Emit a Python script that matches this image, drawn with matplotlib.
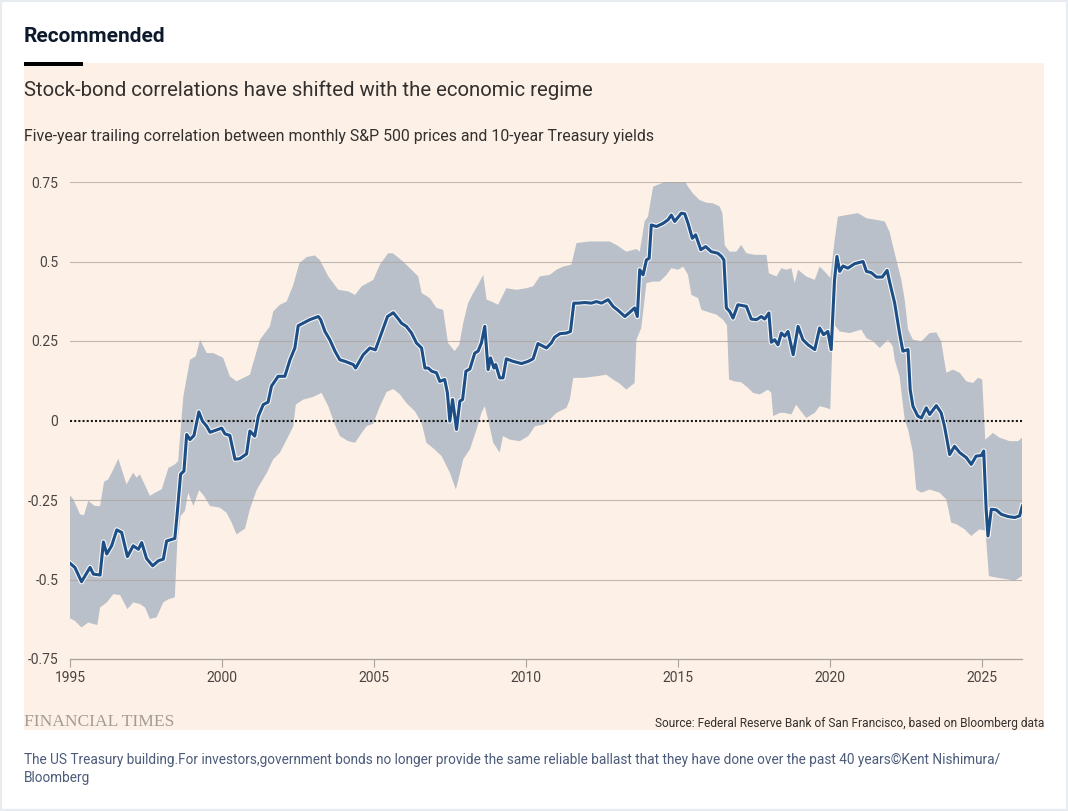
import numpy as np
import matplotlib.pyplot as plt
import matplotlib.patheffects as pe
from matplotlib.patches import Rectangle

# five-year trailing correlation
line_x = [1995.00, 1995.16, 1995.38, 1995.66, 1995.77, 1995.99, 1996.10, 1996.21, 1996.37, 1996.54,
          1996.70, 1996.89, 1997.08, 1997.25, 1997.36, 1997.52, 1997.72, 1997.91, 1998.07, 1998.18,
          1998.45, 1998.53, 1998.64, 1998.75, 1998.84, 1998.95, 1999.08, 1999.24, 1999.36, 1999.50,
          1999.61, 1999.82, 1999.99, 2000.10, 2000.26, 2000.43, 2000.59, 2000.81, 2000.92, 2001.08,
          2001.20, 2001.36, 2001.52, 2001.63, 2001.85, 2002.07, 2002.24, 2002.40, 2002.51, 2002.67,
          2002.89, 2003.17, 2003.25, 2003.39, 2003.55, 2003.72, 2003.88, 2004.05, 2004.32, 2004.40,
          2004.65, 2004.87, 2005.05, 2005.25, 2005.45, 2005.64, 2005.80, 2005.91, 2006.07, 2006.24,
          2006.40, 2006.57, 2006.68, 2006.79, 2006.90, 2007.06, 2007.17, 2007.33, 2007.42, 2007.50,
          2007.59, 2007.72, 2007.83, 2007.92, 2008.03, 2008.16, 2008.32, 2008.43, 2008.54, 2008.65,
          2008.76, 2008.84, 2008.95, 2009.01, 2009.14, 2009.25, 2009.36, 2009.58, 2009.86, 2010.08,
          2010.24, 2010.40, 2010.68, 2010.84, 2010.95, 2011.12, 2011.34, 2011.47, 2011.58, 2011.72,
          2011.94, 2012.16, 2012.32, 2012.49, 2012.71, 2012.87, 2013.04, 2013.26, 2013.42, 2013.58,
          2013.67, 2013.75, 2013.86, 2013.97, 2014.06, 2014.13, 2014.30, 2014.41, 2014.52, 2014.68,
          2014.79, 2014.90, 2015.12, 2015.23, 2015.34, 2015.48, 2015.59, 2015.76, 2015.92, 2016.10,
          2016.32, 2016.44, 2016.52, 2016.60, 2016.71, 2016.82, 2016.98, 2017.26, 2017.42, 2017.59,
          2017.75, 2017.86, 2018.00, 2018.08, 2018.19, 2018.30, 2018.41, 2018.52, 2018.63, 2018.80,
          2018.96, 2019.12, 2019.29, 2019.51, 2019.67, 2019.80, 2019.94, 2020.05, 2020.16, 2020.24,
          2020.33, 2020.44, 2020.60, 2020.82, 2021.10, 2021.21, 2021.37, 2021.54, 2021.73, 2021.89,
          2021.97, 2022.14, 2022.30, 2022.41, 2022.58, 2022.65, 2022.74, 2022.90, 2023.02, 2023.18,
          2023.29, 2023.51, 2023.67, 2023.78, 2023.95, 2024.11, 2024.28, 2024.50, 2024.66, 2024.82,
          2024.99, 2025.07, 2025.15, 2025.21, 2025.32, 2025.48, 2025.65, 2025.87, 2026.09, 2026.25,
          2026.34]
line_y = [-0.449, -0.462, -0.507, -0.462, -0.483, -0.486, -0.382, -0.420, -0.394, -0.344,
          -0.352, -0.428, -0.394, -0.405, -0.384, -0.434, -0.457, -0.441, -0.436, -0.379,
          -0.371, -0.290, -0.169, -0.159, -0.044, -0.060, -0.047, 0.027, -0.002, -0.018,
          -0.037, -0.030, -0.024, -0.042, -0.047, -0.122, -0.120, -0.105, -0.033, -0.049,
          0.014, 0.050, 0.058, 0.108, 0.139, 0.139, 0.191, 0.228, 0.298, 0.306,
          0.317, 0.327, 0.317, 0.280, 0.254, 0.218, 0.191, 0.186, 0.176, 0.165,
          0.207, 0.228, 0.222, 0.275, 0.327, 0.339, 0.320, 0.306, 0.296, 0.275,
          0.244, 0.228, 0.165, 0.165, 0.155, 0.150, 0.123, 0.129, 0.087, -0.002,
          0.066, -0.028, 0.061, 0.066, 0.155, 0.162, 0.212, 0.218, 0.244, 0.296,
          0.160, 0.197, 0.165, 0.176, 0.134, 0.134, 0.194, 0.186, 0.179, 0.186,
          0.194, 0.242, 0.228, 0.244, 0.262, 0.273, 0.275, 0.280, 0.369, 0.369,
          0.371, 0.369, 0.374, 0.369, 0.380, 0.359, 0.346, 0.327, 0.340, 0.354,
          0.327, 0.474, 0.458, 0.505, 0.510, 0.615, 0.610, 0.615, 0.620, 0.631,
          0.646, 0.626, 0.652, 0.650, 0.620, 0.573, 0.584, 0.537, 0.547, 0.531,
          0.526, 0.516, 0.505, 0.354, 0.343, 0.322, 0.364, 0.359, 0.319, 0.317,
          0.327, 0.319, 0.338, 0.246, 0.254, 0.238, 0.275, 0.265, 0.280, 0.207,
          0.296, 0.254, 0.238, 0.223, 0.291, 0.270, 0.280, 0.223, 0.442, 0.516,
          0.469, 0.486, 0.479, 0.493, 0.500, 0.469, 0.465, 0.451, 0.451, 0.472,
          0.437, 0.369, 0.275, 0.218, 0.223, 0.097, 0.045, 0.014, 0.008, 0.040,
          0.019, 0.047, 0.024, -0.018, -0.107, -0.081, -0.101, -0.117, -0.138, -0.112,
          -0.110, -0.096, -0.279, -0.363, -0.279, -0.281, -0.295, -0.302, -0.305, -0.300,
          -0.269]

# upper edge of the shaded range
upper_x = [1995.00, 1995.11, 1995.33, 1995.46, 1995.60, 1995.82, 1995.99, 1996.12, 1996.26, 1996.40,
           1996.59, 1996.86, 1997.08, 1997.19, 1997.30, 1997.63, 1997.80, 1998.02, 1998.24, 1998.45,
           1998.56, 1998.73, 1998.95, 1999.14, 1999.28, 1999.50, 1999.72, 2000.04, 2000.26, 2000.48,
           2000.92, 2001.03, 2001.25, 2001.58, 2001.69, 2001.91, 2002.13, 2002.35, 2002.55, 2002.79,
           2003.06, 2003.22, 2003.50, 2003.83, 2004.16, 2004.38, 2004.60, 2004.98, 2005.20, 2005.47,
           2005.64, 2005.96, 2006.24, 2006.46, 2006.57, 2006.84, 2007.06, 2007.28, 2007.44, 2007.66,
           2007.81, 2007.94, 2008.10, 2008.27, 2008.43, 2008.60, 2008.71, 2008.87, 2009.09, 2009.36,
           2009.69, 2010.02, 2010.24, 2010.46, 2010.79, 2011.01, 2011.23, 2011.50, 2011.67, 2012.11,
           2012.54, 2012.76, 2012.98, 2013.31, 2013.64, 2013.75, 2013.91, 2014.02, 2014.19, 2014.52,
           2014.74, 2014.96, 2015.23, 2015.34, 2015.50, 2015.72, 2015.94, 2016.16, 2016.38, 2016.47,
           2016.55, 2016.71, 2016.93, 2017.09, 2017.26, 2017.53, 2017.92, 2018.00, 2018.25, 2018.41,
           2018.57, 2018.74, 2018.85, 2018.96, 2019.23, 2019.51, 2019.67, 2019.89, 2020.02, 2020.16,
           2020.27, 2020.55, 2020.93, 2021.21, 2021.54, 2021.81, 2021.97, 2022.14, 2022.36, 2022.47,
           2022.58, 2022.74, 2023.02, 2023.29, 2023.51, 2023.67, 2023.84, 2024.06, 2024.28, 2024.50,
           2024.72, 2024.88, 2025.02, 2025.12, 2025.26, 2025.37, 2025.59, 2025.92, 2026.20, 2026.33]
upper_y = [-0.235, -0.248, -0.295, -0.298, -0.253, -0.269, -0.269, -0.193, -0.185, -0.159,
           -0.120, -0.201, -0.164, -0.180, -0.169, -0.237, -0.227, -0.216, -0.149, -0.138,
           -0.128, 0.076, 0.191, 0.202, 0.254, 0.212, 0.212, 0.197, 0.139, 0.123,
           0.144, 0.181, 0.254, 0.296, 0.343, 0.364, 0.374, 0.427, 0.495, 0.514,
           0.519, 0.505, 0.453, 0.411, 0.406, 0.395, 0.422, 0.442, 0.490, 0.526,
           0.525, 0.500, 0.474, 0.453, 0.401, 0.385, 0.354, 0.348, 0.244, 0.218,
           0.238, 0.306, 0.369, 0.401, 0.427, 0.458, 0.380, 0.374, 0.364, 0.416,
           0.411, 0.416, 0.422, 0.453, 0.458, 0.474, 0.484, 0.490, 0.558, 0.563,
           0.563, 0.563, 0.552, 0.531, 0.539, 0.531, 0.626, 0.641, 0.735, 0.748,
           0.754, 0.751, 0.754, 0.735, 0.714, 0.693, 0.685, 0.683, 0.673, 0.652,
           0.550, 0.531, 0.531, 0.552, 0.526, 0.521, 0.521, 0.463, 0.453, 0.479,
           0.474, 0.479, 0.432, 0.474, 0.453, 0.442, 0.484, 0.463, 0.448, 0.563,
           0.641, 0.646, 0.652, 0.636, 0.631, 0.626, 0.594, 0.526, 0.442, 0.380,
           0.286, 0.254, 0.249, 0.275, 0.277, 0.249, 0.150, 0.160, 0.150, 0.123,
           0.118, 0.134, 0.129, -0.060, -0.049, -0.039, -0.054, -0.065, -0.065, -0.054]

# lower edge of the shaded range
lower_x = [1995.00, 1995.16, 1995.38, 1995.60, 1995.77, 1995.90, 1995.99, 1996.21, 1996.43, 1996.65,
           1996.89, 1997.08, 1997.30, 1997.47, 1997.63, 1997.85, 1998.07, 1998.24, 1998.45, 1998.53,
           1998.64, 1998.78, 1998.89, 1999.06, 1999.25, 1999.41, 1999.61, 1999.93, 2000.15, 2000.32,
           2000.48, 2000.76, 2000.92, 2001.15, 2001.48, 2001.69, 2001.91, 2002.13, 2002.35, 2002.43,
           2002.68, 2003.00, 2003.28, 2003.50, 2003.72, 2003.88, 2004.16, 2004.38, 2004.60, 2004.76,
           2004.98, 2005.20, 2005.42, 2005.64, 2005.86, 2006.07, 2006.35, 2006.57, 2006.73, 2007.00,
           2007.23, 2007.50, 2007.70, 2007.81, 2007.94, 2008.16, 2008.38, 2008.54, 2008.65, 2008.76,
           2008.93, 2009.14, 2009.25, 2009.47, 2009.80, 2010.08, 2010.30, 2010.57, 2010.79, 2011.01,
           2011.34, 2011.45, 2011.56, 2011.89, 2012.32, 2012.65, 2012.87, 2013.09, 2013.31, 2013.58,
           2013.64, 2013.80, 2013.97, 2014.19, 2014.41, 2014.63, 2014.79, 2015.01, 2015.18, 2015.34,
           2015.45, 2015.67, 2015.78, 2015.94, 2016.27, 2016.49, 2016.62, 2016.69, 2016.87, 2017.09,
           2017.31, 2017.48, 2017.70, 2017.97, 2018.08, 2018.14, 2018.36, 2018.52, 2018.74, 2018.90,
           2019.01, 2019.23, 2019.51, 2019.67, 2019.89, 2020.02, 2020.11, 2020.33, 2020.66, 2021.04,
           2021.21, 2021.43, 2021.65, 2021.92, 2022.08, 2022.14, 2022.30, 2022.47, 2022.58, 2022.74,
           2022.85, 2023.02, 2023.29, 2023.62, 2023.84, 2024.00, 2024.17, 2024.44, 2024.66, 2024.93,
           2025.13, 2025.24, 2025.48, 2025.81, 2026.09, 2026.33]
lower_y = [-0.622, -0.630, -0.651, -0.635, -0.640, -0.643, -0.588, -0.572, -0.546, -0.549,
           -0.593, -0.572, -0.577, -0.588, -0.624, -0.619, -0.572, -0.562, -0.556, -0.384,
           -0.300, -0.285, -0.227, -0.269, -0.219, -0.237, -0.269, -0.274, -0.290, -0.321,
           -0.358, -0.340, -0.279, -0.217, -0.164, -0.122, -0.101, -0.060, -0.018, 0.050,
           0.066, 0.074, 0.087, 0.045, -0.013, -0.049, -0.065, -0.070, -0.039, -0.018,
           -0.010, 0.045, 0.090, 0.099, 0.082, 0.055, 0.029, -0.007, -0.070, -0.091,
           -0.112, -0.164, -0.217, -0.175, -0.122, -0.091, -0.028, 0.024, 0.045, 0.003,
           -0.070, -0.101, -0.049, -0.060, -0.065, -0.049, -0.018, -0.013, 0.003, 0.024,
           0.040, 0.066, 0.134, 0.134, 0.139, 0.144, 0.129, 0.116, 0.097, 0.118,
           0.254, 0.291, 0.432, 0.437, 0.437, 0.458, 0.479, 0.474, 0.484, 0.458,
           0.395, 0.385, 0.348, 0.343, 0.333, 0.317, 0.300, 0.129, 0.123, 0.120,
           0.103, 0.087, 0.082, 0.097, 0.087, 0.014, 0.024, 0.024, 0.019, 0.050,
           0.035, 0.008, 0.024, 0.045, 0.040, 0.035, 0.306, 0.280, 0.275, 0.286,
           0.259, 0.249, 0.228, 0.254, 0.233, 0.191, 0.139, 0.003, -0.028, -0.101,
           -0.217, -0.227, -0.217, -0.227, -0.248, -0.321, -0.326, -0.342, -0.363, -0.342,
           -0.347, -0.489, -0.494, -0.499, -0.504, -0.489]

y_ticks = [-0.75, -0.5, -0.25, 0, 0.25, 0.5, 0.75]
y_labels = ['-0.75', '-0.5', '-0.25', '0', '0.25', '0.5', '0.75']
x_ticks = [1995, 2000, 2005, 2010, 2015, 2020, 2025]

W, H = 1068, 811

def fx(px):
    return px / W

def fy(py):
    return 1 - py / H

plt.rcParams['font.family'] = ['Roboto', 'DejaVu Sans']

fig = plt.figure(figsize=(W / 100, H / 100), dpi=100)
fig.patch.set_facecolor('white')

# outer frame, peach panel, black bar
fig.patches.append(Rectangle((0, 0), 1, 1, transform=fig.transFigure, fill=False,
                             edgecolor='#e8ecf1', lw=3, zorder=-2))
fig.patches.append(Rectangle((fx(24), fy(730)), fx(1020), 667 / H, transform=fig.transFigure,
                             facecolor='#fdf0e6', edgecolor='none', zorder=-2))
fig.patches.append(Rectangle((fx(24), fy(66)), fx(59), 4 / H, transform=fig.transFigure,
                             facecolor='black', edgecolor='none', zorder=-1))

fig.text(fx(24), fy(36), 'Recommended', fontsize=15, fontweight='bold', color='#0d1a2b',
         va='center', ha='left')
fig.text(fx(24), fy(90), 'Stock-bond correlations have shifted with the economic regime',
         fontsize=14.7, color='#33302e', va='center', ha='left')
fig.text(fx(24), fy(136), 'Five-year trailing correlation between monthly S&P 500 prices and 10-year Treasury yields',
         fontsize=11.4, color='#33302e', va='center', ha='left')

ax = fig.add_axes([fx(70), fy(659), fx(1022) - fx(70), fy(182) - fy(659)])
ax.set_facecolor('none')
ax.set_zorder(2)

band_x = np.concatenate([upper_x, lower_x[::-1]])
band_y = np.concatenate([upper_y, lower_y[::-1]])
ax.fill(band_x, band_y, color='#b9c0c9', lw=0, zorder=1)

for t in y_ticks[1:]:
    if t != 0:
        ax.axhline(t, color='#aba59f', lw=0.8, alpha=0.75, zorder=2)
ax.axhline(0, color='#1a1a1a', lw=1.5, linestyle=(0, (1, 1)), zorder=3)

ax.plot(line_x, line_y, color='#1d4e86', lw=2.2, zorder=4, solid_joinstyle='round',
        path_effects=[pe.Stroke(linewidth=3.8, foreground='#f4f6f8'), pe.Normal()])

ax.set_xlim(1995, 2026.33)
ax.set_ylim(-0.75, 0.75)
ax.set_yticks(y_ticks)
ax.set_yticklabels(y_labels)
ax.set_xticks(x_ticks)
for s in ['top', 'right', 'left']:
    ax.spines[s].set_visible(False)
ax.spines['bottom'].set_color('#a9a39d')
ax.spines['bottom'].set_linewidth(0.9)
ax.tick_params(axis='y', length=0, pad=8.5, labelsize=10, labelcolor='#4a4542')
ax.tick_params(axis='x', length=6, width=0.8, color='#a9a39d', pad=3, labelsize=10,
               labelcolor='#4a4542')

fig.text(fx(24), fy(722), 'FINANCIAL TIMES', family='Liberation Serif', fontsize=12.6,
         color='#a39c95', va='center', ha='left')
fig.text(fx(1044), fy(723), 'Source: Federal Reserve Bank of San Francisco, based on Bloomberg data',
         fontsize=8.6, color='#33302e', va='center', ha='right')

fig.text(fx(24), fy(760), 'The US Treasury building.For investors,government bonds no longer provide the same reliable ballast that they have done over the past 40 years\u00a9Kent Nishimura/',
         fontsize=9.8, color='#4c5b7a', va='center', ha='left')
fig.text(fx(24), fy(778), 'Bloomberg', fontsize=9.8, color='#4c5b7a', va='center', ha='left')

fig.savefig('out.png', dpi=100)
